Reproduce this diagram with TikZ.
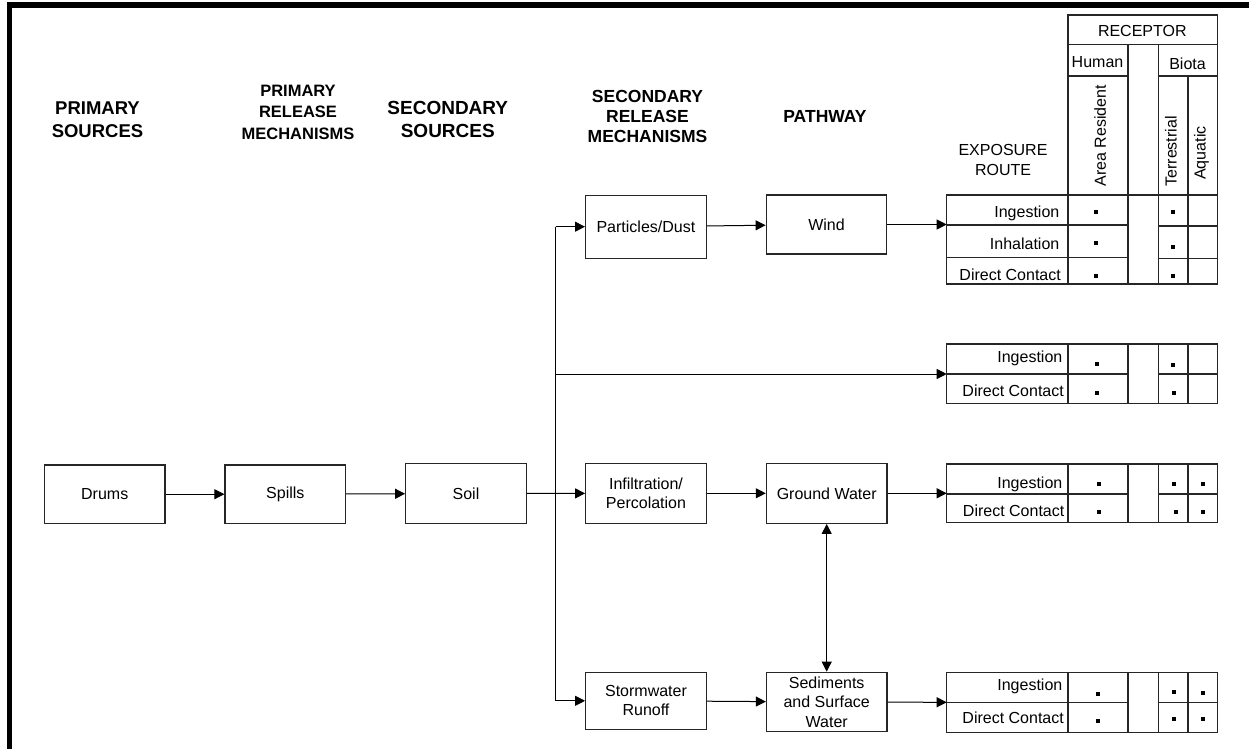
\documentclass[tikz,border=0pt]{standalone}
\usepackage{fontspec}
\setmainfont{Liberation Sans}
\usetikzlibrary{arrows.meta}
\def\colA{946.7}
\def\colB{1068}
\def\colC{1128}
\def\colD{1158.3}
\def\colE{1188}
\def\colF{1217.5}
\newcommand\exptable[3]{%
  \draw[tline] (\colA,#1) rectangle (\colF,#3);
  \foreach \cc in {\colB,\colC,\colD,\colE} {\draw[tline] (\cc,#1) -- (\cc,#3);}
  \draw[tline] (\colA,#2) -- (\colC,#2);
  \draw[tline] (\colD,#2) -- (\colF,#2);}
\begin{document}
\begin{tikzpicture}[x=1pt,y=-1pt,
  box/.style={draw=black!85, line width=1.3pt, minimum width=120.5pt, inner sep=0pt, align=center, font=\fontsize{16}{19.3}\selectfont},
  arr/.style={-{Triangle[length=10pt,width=10pt]}, line width=1pt},
  dblarr/.style={{Triangle[length=10pt,width=10pt]}-{Triangle[length=10pt,width=10pt]}, line width=1pt},
  tline/.style={draw=black!85, line width=1.3pt},
  hdr/.style={align=center, inner sep=0pt},
  lbl/.style={anchor=base east, inner sep=0pt, font=\fontsize{16}{19}\selectfont},
  txt/.style={inner sep=0pt, align=center, font=\fontsize{16}{19}\selectfont},
  vtxt/.style={rotate=90, anchor=base west, inner sep=0pt, font=\fontsize{16}{19}\selectfont},
  dot/.style={fill=black, minimum size=4pt, inner sep=0pt}]
\useasboundingbox (0,0) rectangle (1249,749);
% frame
\fill[black] (7,2) rectangle (1249,8.5);
\fill[black] (7,2) rectangle (11.5,749);
% headers
\node[hdr, font=\bfseries\fontsize{18.5}{23.3}\selectfont] (h1) at (97.5,120) {PRIMARY\\SOURCES};
\node[hdr, font=\bfseries\fontsize{16.5}{21.7}\selectfont] (h2) at (298,112.3) {PRIMARY\\RELEASE\\MECHANISMS};
\node[hdr, font=\bfseries\fontsize{19}{23.3}\selectfont] (h3) at (447.8,119.3) {SECONDARY\\SOURCES};
\node[hdr, font=\bfseries\fontsize{17.5}{20.3}\selectfont] (h4) at (647.5,116.3) {SECONDARY\\RELEASE\\MECHANISMS};
\node[hdr, font=\bfseries\fontsize{17.5}{21}\selectfont] (h5) at (825,116.7) {PATHWAY};
\node[hdr, font=\fontsize{16}{20}\selectfont] (h6) at (1003,160) {EXPOSURE\\ROUTE};
% boxes
\node[box, minimum height=58.3pt] (drums) at (104.7,494.2) {Drums};
\node[box, minimum height=58.3pt] (spills) at (285.3,494.2) {Spills};
\node[box, minimum height=60pt] (soil) at (466,493.5) {Soil};
\node[box, minimum height=63pt] (part) at (645.9,226.7) {Particles/Dust};
\node[box, minimum height=59pt] (wind) at (826.5,224.5) {Wind};
\node[box, minimum height=60pt] (infil) at (646,493.3) {Infiltration/\\Percolation};
\node[box, minimum height=60pt] (gw) at (826.7,493.3) {Ground Water};
\node[box, minimum height=57pt] (storm) at (646,700.8) {Stormwater\\Runoff};
\node[box, minimum height=59.4pt] (sed) at (826.7,702) {Sediments\\and Surface\\Water};
% receptor header
\draw[tline] (\colB,15) rectangle (\colF,44.3);
\draw[tline] (\colB,44.3) rectangle (\colC,76);
\draw[tline] (\colD,44.3) rectangle (\colF,76);
\draw[tline] (\colB,76) rectangle (\colC,195);
\draw[tline] (\colD,76) rectangle (\colE,195);
\draw[tline] (\colE,76) rectangle (\colF,195);
\draw[tline] (\colC,44.3) -- (\colC,284);
\draw[tline] (\colD,44.3) -- (\colD,284);
\node[txt] (rec) at (1142.3,30.7) {RECEPTOR};
\node[txt] (hum) at (1097.5,61.7) {Human};
\node[txt] (bio) at (1187.5,63.3) {Biota};
\node[vtxt] (ares) at (1105.8,186.7) {Area Resident};
\node[vtxt] (terr) at (1176.5,186.7) {Terrestrial};
\node[vtxt] (aqua) at (1205.5,180) {Aquatic};
% table 1
\draw[tline] (\colA,195) rectangle (\colF,284);
\foreach \cc in {\colB,\colC,\colD,\colE} {\draw[tline] (\cc,195) -- (\cc,284);}
\draw[tline] (\colA,225) -- (\colC,225);
\draw[tline] (\colA,257.3) -- (\colC,257.3);
\draw[tline] (\colD,226) -- (\colF,226);
\draw[tline] (\colD,258.5) -- (\colF,258.5);
\node[lbl] (t1a) at (1059.5,217.5) {Ingestion};
\node[lbl] (t1b) at (1059.5,249) {Inhalation};
\node[lbl] (t1c) at (1061,280) {Direct Contact};
\foreach \p in {(1095.7,211.7),(1095.7,243.3),(1095.7,276),(1173.3,211.7),(1173.3,246.7),(1173.3,276)} {\node[dot] at \p {};}
% table 2
\exptable{344}{374}{403.3}
\node[lbl] (t2a) at (1062.5,362) {Ingestion};
\node[lbl] (t2b) at (1064,396) {Direct Contact};
\foreach \p in {(1097.3,364),(1097.3,392.7),(1173.3,365),(1174.3,392.7)} {\node[dot] at \p {};}
% table 3
\exptable{464}{494}{522.7}
\node[lbl] (t3a) at (1062.5,488.5) {Ingestion};
\node[lbl] (t3b) at (1064.5,516) {Direct Contact};
\foreach \p in {(1098.7,484),(1099,511.7),(1174.3,484),(1175.7,511.7),(1202.7,484),(1203.3,511.7)} {\node[dot] at \p {};}
% table 4
\exptable{672.3}{702.3}{732.7}
\node[lbl] (t4a) at (1062.5,690) {Ingestion};
\node[lbl] (t4b) at (1064,723) {Direct Contact};
\foreach \p in {(1098.3,694),(1098,720.7),(1174.3,692),(1174.3,718.7),(1202.7,692.7),(1202.7,718.7)} {\node[dot] at \p {};}
% connector targets
\coordinate (T1in) at (\colA,224.5);
\coordinate (T2in) at (\colA,374);
\coordinate (T3in) at (\colA,493.3);
\coordinate (T4in) at (\colA,702.3);
\coordinate (trunk) at (555.7,226.7);
\coordinate (tr2) at (555.7,374);
% connectors
\draw[arr] (drums) -- (spills);
\draw[arr] (spills) -- (soil);
\draw[arr] (soil) -- (infil);
\draw[arr] (trunk) -- (part.west);
\draw[arr] (trunk) |- (storm.west);
\draw[arr] (tr2) -- (T2in);
\draw[arr] (part) -- (wind);
\draw[arr] (wind) -- (T1in);
\draw[arr] (infil) -- (gw);
\draw[arr] (gw) -- (T3in);
\draw[arr] (storm) -- (sed);
\draw[arr] (sed) -- (T4in);
\draw[dblarr] (gw) -- (sed);
\end{tikzpicture}
\end{document}
